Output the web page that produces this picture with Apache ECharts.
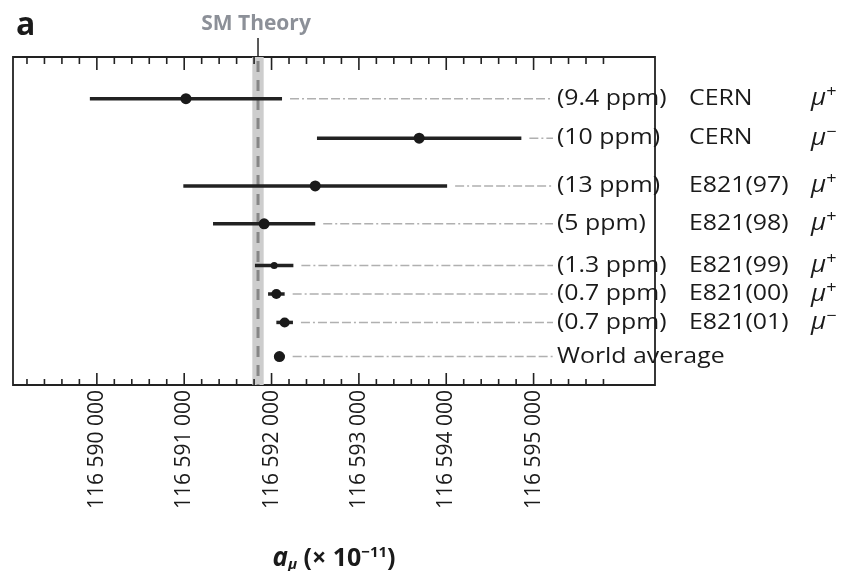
<!DOCTYPE html>
<html>
<head>
<meta charset="utf-8">
<script src="https://cdn.jsdelivr.net/npm/echarts@6.0.0/dist/echarts.min.js"></script>
<style>
html, body { margin: 0; padding: 0; background: #fff; }
#chart { width: 846px; height: 571px; }
</style>
</head>
<body>
<div id="chart"></div>
<script>
// measurements of the muon anomaly, top row first
const precisionLabels = ['(9.4 ppm)', '(10 ppm)', '(13 ppm)', '(5 ppm)', '(1.3 ppm)', '(0.7 ppm)', '(0.7 ppm)', 'World average'];
const experimentLabels = ['CERN', 'CERN', 'E821(97)', 'E821(98)', 'E821(99)', 'E821(00)', 'E821(01)', ''];
const chargeLabels = ['+', '−', '+', '+', '+', '+', '−', ''];
const values = [116591020, 116593690, 116592500, 116591915, 116592030, 116592055, 116592150, 116592090];
const errors = [1100, 1170, 1510, 585, 220, 95, 95, 60];
// vertical slot of each row (rows are not evenly spaced in the figure)
const rowPos = [1.1, 2.14, 3.4, 4.4, 5.5, 6.25, 7.0, 7.9];
const smTheory = 116591845;
const smError = 65;
const majorTicks = [116590000, 116591000, 116592000, 116593000, 116594000, 116595000];
const minorTicks = [];
for (let v = 116589200; v <= 116595800; v += 200) {
	if (!majorTicks.includes(v)) minorTicks.push(v);
}

const dotSizes = [11, 11, 11, 11, 7, 10, 10, 11];
const FONT = '"Open Sans", "DejaVu Sans", sans-serif';
const STRETCH = 1.13; // the source lettering is a bit wider than Open Sans

const myChart = echarts.init(document.getElementById('chart'));

const fmtTick = (v) => String(v).replace(/\B(?=(\d{3})+(?!\d))/g, ' ');

const rowData = values.map((v, i) => [v, v - errors[i], v + errors[i], rowPos[i]]);
// 1 = major tick, 0 = minor tick
const tickData = majorTicks.map(v => [v, 1]).concat(minorTicks.map(v => [v, 0]));

const option = {
	animation: false,
	title: {
		text: 'a',
		left: 11,
		top: 5,
		textStyle: { fontFamily: FONT, fontSize: 32, fontWeight: 'bold', color: '#1a1a1a' },
	},
	grid: {
		left: 13,
		right: 191,
		top: 57,
		bottom: 186,
		show: true,
		borderColor: '#222',
		borderWidth: 1.8,
		containLabel: false,
		outerBoundsMode: 'none',
	},
	xAxis: {
		type: 'value',
		position: 'bottom',
		min: 116589040,
		max: 116596390,
		splitLine: { show: false },
		axisLine: { show: false, onZero: false },
		axisTick: { show: false },
		axisLabel: {
			customValues: majorTicks,
			rotate: 90,
			margin: 5,
			fontFamily: FONT,
			fontSize: 21,
			color: '#1a1a1a',
			formatter: fmtTick,
		},
		name: '{a|a}{sub|μ}{b| (× 10}{sup|−11}{b|)}',
		nameLocation: 'middle',
		nameGap: 160,
		nameTextStyle: {
			rich: {
				a: { fontFamily: FONT, fontSize: 26, fontWeight: 'bold', fontStyle: 'italic', color: '#1a1a1a' },
				sub: { fontFamily: FONT, fontSize: 15, fontWeight: 'bold', fontStyle: 'italic', color: '#1a1a1a', padding: [12, 0, 0, 0] },
				b: { fontFamily: FONT, fontSize: 25, fontWeight: 'bold', color: '#1a1a1a' },
				sup: { fontFamily: FONT, fontSize: 15, fontWeight: 'bold', color: '#1a1a1a', padding: [0, 0, 12, 0] },
			},
		},
	},
	yAxis: {
		type: 'value',
		min: 0,
		max: 8.65,
		inverse: true,
		show: false,
	},
	series: [
		{
			// inward ticks on the top and bottom frame
			type: 'custom',
			z: 4,
			clip: false,
			data: tickData,
			renderItem(params, api) {
				const cs = params.coordSys;
				const x = api.coord([api.value(0), 0])[0];
				const len = api.value(1) ? 12 : 6;
				const st = { stroke: '#222', lineWidth: 1.6 };
				return {
					type: 'group',
					children: [
						{ type: 'line', shape: { x1: x, y1: cs.y, x2: x, y2: cs.y + len + 1 }, style: st },
						{ type: 'line', shape: { x1: x, y1: cs.y + cs.height, x2: x, y2: cs.y + cs.height - len }, style: st },
					],
				};
			},
		},
		{
			// SM theory band
			type: 'custom',
			z: 1,
			clip: false,
			data: [[smTheory, smTheory - smError, smTheory + smError]],
			renderItem(params, api) {
				const cs = params.coordSys;
				const c = api.coord([api.value(0), 0]);
				const lo = api.coord([api.value(1), 0]);
				const hi = api.coord([api.value(2), 0]);
				return {
					type: 'group',
					children: [
						{ type: 'rect', shape: { x: lo[0], y: cs.y, width: hi[0] - lo[0], height: cs.height }, style: { fill: '#cdcdcd' } },
						{ type: 'line', shape: { x1: c[0], y1: cs.y + 4, x2: c[0], y2: cs.y + cs.height }, style: { stroke: '#868686', lineWidth: 3, lineDash: [11, 8] } },
						{ type: 'line', shape: { x1: c[0], y1: cs.y - 19, x2: c[0], y2: cs.y }, style: { stroke: '#222', lineWidth: 1.5 } },
						{
							type: 'text',
							x: c[0] - 2,
							y: cs.y - 33,
							style: { text: 'SM Theory', fontFamily: FONT, fontSize: 21, fontWeight: 'bold', fill: '#8c9098', align: 'center', verticalAlign: 'middle' },
						},
					],
				};
			},
		},
		{
			// error bars, leader lines and labels
			type: 'custom',
			z: 2,
			clip: false,
			data: rowData,
			renderItem(params, api) {
				const i = params.dataIndex;
				const cs = params.coordSys;
				const lo = api.coord([api.value(1), api.value(3)]);
				const hi = api.coord([api.value(2), api.value(3)]);
				const y = lo[1];
				const textX = cs.x + cs.width - 98;
				const txt = { fontFamily: FONT, fontSize: 22, fill: '#1a1a1a', verticalAlign: 'middle' };
				const children = [
					{ type: 'line', shape: { x1: lo[0], y1: y, x2: hi[0], y2: y }, style: { stroke: '#222', lineWidth: 3.5 } },
					{ type: 'line', shape: { x1: hi[0] + 8, y1: y, x2: textX - 4, y2: y }, style: { stroke: '#b0b0b0', lineWidth: 1.5, lineDash: [9, 3, 2, 3, 9, 3, 9, 3] } },
					{ type: 'text', x: textX, y: y, scaleX: STRETCH, style: Object.assign({ text: precisionLabels[i] }, txt) },
				];
				if (experimentLabels[i]) {
					children.push({ type: 'text', x: textX + 132, y: y, scaleX: STRETCH, style: Object.assign({ text: experimentLabels[i] }, txt) });
				}
				if (chargeLabels[i]) {
					children.push({
						type: 'text',
						x: textX + 254,
						y: y,
						scaleX: STRETCH,
						style: {
							text: '{mu|μ}{sup|' + chargeLabels[i] + '}',
							verticalAlign: 'middle',
							rich: {
								mu: { fontFamily: FONT, fontSize: 23, fontStyle: 'italic', fill: '#1a1a1a', lineHeight: 28 },
								sup: { fontFamily: FONT, fontSize: 16, fill: '#1a1a1a', verticalAlign: 'top', lineHeight: 28 },
							},
						},
					});
				}
				return { type: 'group', children };
			},
		},
		{
			type: 'scatter',
			z: 3,
			symbol: 'circle',
			symbolSize: (val, p) => dotSizes[p.dataIndex],
			itemStyle: { color: '#1a1a1a', opacity: 1 },
			data: values.map((v, i) => [v, rowPos[i]]),
		},
	],
};

myChart.setOption(option);
</script>
</body>
</html>
